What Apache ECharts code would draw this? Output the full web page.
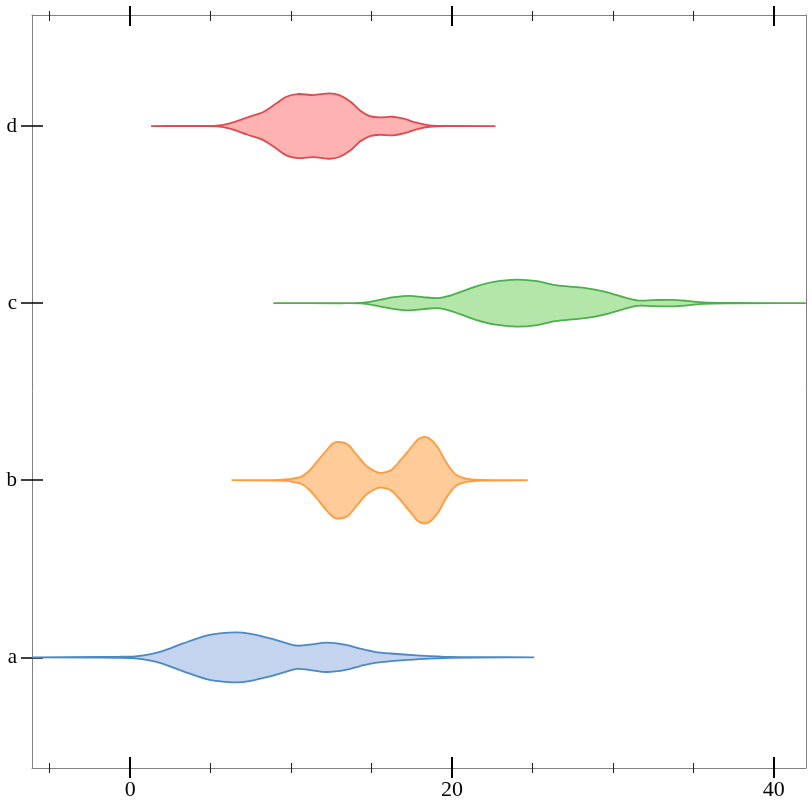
<!DOCTYPE html>
<html>
<head>
<meta charset="utf-8">
<script src="https://cdn.jsdelivr.net/npm/echarts@6/dist/echarts.min.js"></script>
<style>html,body{margin:0;padding:0;background:#fff}#chart{width:812px;height:812px}</style>
</head>
<body>
<div id="chart"></div>
<script>
// categories (bottom to top)
var categories = ['a', 'b', 'c', 'd'];

// density profiles: x value and density (relative width)
var aX = [-6.1, -1.9, -0.8, 0.3, 1.2, 2.0, 3.3, 4.8, 5.6, 6.6, 7.4, 8.7, 9.5, 10.4, 11.3, 12.2, 13.4, 14.3, 15.2, 16.2, 17.8, 19.9, 25.1];
var aD = [0, 0.3, 0.5, 1, 3, 6.2, 14, 22, 24, 25, 23.7, 19, 15.2, 11.6, 13, 14.7, 12.5, 8.7, 5.5, 3.8, 2, 0.5, 0];

var bX = [6.3, 8.1, 9.3, 9.9, 10.2, 10.6, 11.1, 11.6, 12.2, 12.6, 12.9, 13.5, 14.1, 14.7, 15.3, 15.6, 16.2, 16.8, 17.4, 17.9, 18.3, 18.6, 19.1, 19.5, 19.9, 20.3, 20.9, 21.8, 24.7];
var bD = [0, 0.1, 0.4, 1, 2, 3.3, 9, 18.3, 30, 36.7, 38.3, 36, 25, 14, 8.3, 7.3, 10, 20, 31.7, 41, 43.3, 41.7, 33.3, 21.7, 11.7, 5, 1.7, 0.3, 0];

var cX = [8.9, 13.0, 14.5, 15.5, 16.4, 17.4, 18.2, 19.1, 19.7, 20.5, 21.6, 22.6, 24.0, 25.3, 26.3, 27.3, 28.4, 29.4, 30.5, 31.5, 32.5, 33.6, 34.6, 35.6, 37.3, 42.0];
var cD = [0, 0.1, 0.5, 3.3, 6, 7.3, 6, 5, 6.7, 11, 17.3, 21.3, 23.5, 22, 18.3, 16.5, 14.8, 11.7, 6.7, 2.8, 3, 3.3, 2.3, 0.7, 0.2, 0];

var dX = [1.3, 4.3, 5.4, 6.2, 7.3, 8.3, 9.1, 9.7, 10.4, 11.4, 12.4, 13.0, 13.7, 14.3, 14.9, 15.5, 16.3, 17.0, 17.8, 18.6, 19.9, 22.7];
var dD = [0, 0.1, 0.3, 2.7, 8.7, 14.3, 22.7, 29.3, 32, 31, 32.7, 31, 24.3, 15.3, 10, 8.7, 9.3, 7.3, 3.3, 0.7, 0.1, 0];

// axis ticks / labels
var xMajorTicks = [0, 20, 40];
var xMinorTicks = [-5, 0, 5, 10, 15, 20, 25, 30, 35, 40];
var xLabels = [0, 20, 40];
var yTicks = [0, 1, 2, 3];

var profiles = [[aX, aD], [bX, bD], [cX, cD], [dX, dD]];
var strokeColors = ['#4a89c4', '#ff9a3d', '#4caf4c', '#de4a4f'];
var fillColors = ['#c4d4ee', '#ffcb98', '#b3e6a8', '#ffb2b2'];
var WIDTH_SCALE = 1 / 177.1;

var XMIN = -6.1, XMAX = 42.0, YMIN = -0.625, YMAX = 3.627;
var FONT = "'Liberation Serif', 'DejaVu Serif', serif";
var FRAME = '#808080';

var chart = echarts.init(document.getElementById('chart'), null, {renderer: 'canvas'});

function baseX(extra) {
  return Object.assign({
    type: 'value', min: XMIN, max: XMAX, gridIndex: 0,
    splitLine: {show: false},
    axisLine: {show: false, onZero: false},
    axisTick: {show: false},
    axisLabel: {show: false}
  }, extra);
}
function baseY(extra) {
  return Object.assign({
    type: 'value', min: YMIN, max: YMAX, gridIndex: 0,
    splitLine: {show: false},
    axisLine: {show: false, onZero: false},
    axisTick: {show: false},
    axisLabel: {show: false}
  }, extra);
}

// Catmull-Rom style cubic segments through pixel points (rendering only)
function smoothSegments(p, center) {
  var n = p.length, segs = [];
  for (var i = 0; i < n - 1; i++) {
    var p0 = p[Math.max(i - 1, 0)], p1 = p[i], p2 = p[i + 1], p3 = p[Math.min(i + 2, n - 1)];
    var h = p2[0] - p1[0];
    var hA = p2[0] - p0[0] || 1e-9, hB = p3[0] - p1[0] || 1e-9;
    var m1 = (p2[1] - p0[1]) / hA, m2 = (p3[1] - p1[1]) / hB;
    var c1 = [p1[0] + h / 3, p1[1] + m1 * h / 3];
    var c2 = [p2[0] - h / 3, p2[1] - m2 * h / 3];
    segs.push([p1, c1, c2, p2]);
  }
  return segs;
}
function f(v) { return v.toFixed(2); }

var option = {
  backgroundColor: '#fff',
  animation: false,
  grid: {left: 32, top: 15, right: 6, bottom: 44, containLabel: false},
  xAxis: [
    baseX({position: 'bottom',
      axisLine: {show: true, onZero: false, lineStyle: {color: FRAME, width: 1}},
      axisLabel: {show: true, customValues: xLabels, color: '#000', fontFamily: FONT, fontSize: 22, margin: 11}}),
    baseX({position: 'top',
      axisLine: {show: true, onZero: false, lineStyle: {color: FRAME, width: 1}}}),
    baseX({position: 'bottom', offset: 5,
      axisTick: {show: true, customValues: xMinorTicks, inside: true, length: 10, lineStyle: {color: '#222', width: 1}}}),
    baseX({position: 'bottom', offset: 10,
      axisTick: {show: true, customValues: xMajorTicks, inside: true, length: 21, lineStyle: {color: '#000', width: 2}}}),
    baseX({position: 'top', offset: 4,
      axisTick: {show: true, customValues: xMinorTicks, inside: true, length: 10, lineStyle: {color: '#222', width: 1}}}),
    baseX({position: 'top', offset: 9,
      axisTick: {show: true, customValues: xMajorTicks, inside: true, length: 20, lineStyle: {color: '#000', width: 2}}})
  ],
  yAxis: [
    baseY({position: 'left',
      axisLine: {show: true, onZero: false, lineStyle: {color: FRAME, width: 1}},
      axisLabel: {show: true, customValues: yTicks, color: '#000', fontFamily: FONT, fontSize: 21, margin: 15,
        formatter: function (v) { return categories[Math.round(v)]; }}}),
    baseY({position: 'right',
      axisLine: {show: true, onZero: false, lineStyle: {color: FRAME, width: 1}}}),
    baseY({position: 'left', offset: 11,
      axisTick: {show: true, customValues: yTicks, inside: true, length: 22, lineStyle: {color: '#000', width: 1.5}}})
  ],
  series: [{
    type: 'custom',
    coordinateSystem: 'cartesian2d',
    xAxisIndex: 0,
    yAxisIndex: 0,
    clip: true,
    encode: {x: 0, y: 1},
    data: categories.map(function (c, i) { return [profiles[i][0][0], i]; }),
    renderItem: function (params, api) {
      var i = params.dataIndex;
      var xs = profiles[i][0], ds = profiles[i][1];
      var up = [], lo = [];
      for (var k = 0; k < xs.length; k++) {
        up.push(api.coord([xs[k], i + ds[k] * WIDTH_SCALE]));
        lo.push(api.coord([xs[k], i - ds[k] * WIDTH_SCALE]));
      }
      var su = smoothSegments(up), sl = smoothSegments(lo);
      var d = 'M' + f(up[0][0]) + ' ' + f(up[0][1]);
      su.forEach(function (s) {
        d += ' C' + f(s[1][0]) + ' ' + f(s[1][1]) + ' ' + f(s[2][0]) + ' ' + f(s[2][1]) + ' ' + f(s[3][0]) + ' ' + f(s[3][1]);
      });
      d += ' L' + f(lo[lo.length - 1][0]) + ' ' + f(lo[lo.length - 1][1]);
      for (var j = sl.length - 1; j >= 0; j--) {
        var s = sl[j];
        d += ' C' + f(s[2][0]) + ' ' + f(s[2][1]) + ' ' + f(s[1][0]) + ' ' + f(s[1][1]) + ' ' + f(s[0][0]) + ' ' + f(s[0][1]);
      }
      d += ' Z';
      return {
        type: 'path',
        shape: {pathData: d, layout: 'cover'},
        style: {fill: fillColors[i], stroke: strokeColors[i], lineWidth: 1.8}
      };
    }
  }]
};
chart.setOption(option);
</script>
</body>
</html>
